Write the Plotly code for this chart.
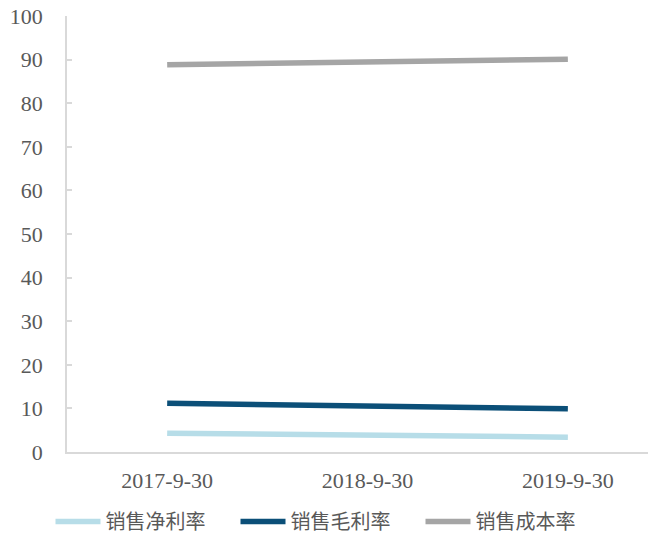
import plotly.graph_objects as go

categories = ["2017-9-30", "2018-9-30", "2019-9-30"]
net_margin = [4.3, 3.7, 3.4]
gross_margin = [11.2, 10.5, 9.9]
cost_rate = [88.8, 89.5, 90.1]
y_ticks = [0, 10, 20, 30, 40, 50, 60, 70, 80, 90, 100]

series = [
    ("销售净利率", net_margin, "#b7dde8"),
    ("销售毛利率", gross_margin, "#0b4f78"),
    ("销售成本率", cost_rate, "#a5a5a5"),
]

fig = go.Figure()
for name, vals, color in series:
    fig.add_trace(go.Scatter(
        x=list(range(len(categories))), y=vals, name=name, mode="lines",
        line=dict(color=color, width=5.5),
    ))

font_family = "Liberation Serif, Noto Sans CJK SC, serif"
fig.update_layout(
    width=656, height=541,
    margin=dict(l=67, r=8, t=16, b=89),
    paper_bgcolor="white", plot_bgcolor="white",
    font=dict(family=font_family, color="#595959", size=21),
    showlegend=True,
    legend=dict(orientation="h", xref="container", x=0.5, xanchor="center",
                yref="container", y=0.0, yanchor="bottom",
                font=dict(size=20, color="#595959"),
                itemwidth=45, entrywidth=125, entrywidthmode="pixels",
                tracegroupgap=0),
    xaxis=dict(
        tickmode="array", tickvals=list(range(len(categories))), ticktext=categories,
        range=[-0.5, 2.4], showgrid=False, zeroline=False, automargin=False,
        showline=True, linecolor="#d9d9d9", linewidth=1.5,
        ticks="", ticklabelstandoff=8,
        tickfont=dict(size=22, color="#595959"),
    ),
    yaxis=dict(
        range=[0, 100], tickvals=y_ticks, showgrid=False, zeroline=False, automargin=False,
        showline=True, linecolor="#d9d9d9", linewidth=1.5,
        ticks="inside", ticklen=5, tickcolor="#d9d9d9", tickwidth=1.5,
        ticklabelstandoff=18,
        tickfont=dict(size=22, color="#595959"),
    ),
)

fig.write_html("out.html")
